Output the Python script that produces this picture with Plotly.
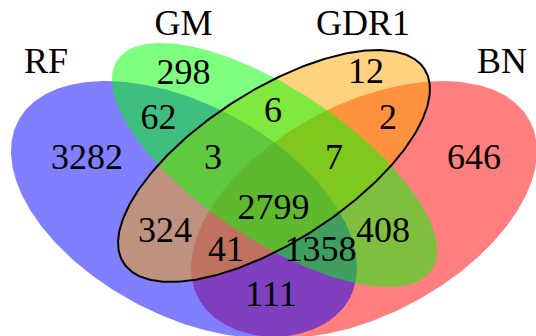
import numpy as np
import plotly.graph_objects as go

# Set names and region counts of the four-way Venn diagram
set_names = ["RF", "GM", "GDR1", "BN"]
region_labels = ["3282", "298", "12", "646",
                 "62", "6", "2",
                 "3", "7", "2799",
                 "324", "408", "41", "1358", "111"]
region_counts = [int(v) for v in region_labels]

# Where each number sits (pixel space, y downward)
region_x = [87, 183.5, 366, 474,
            158.5, 273, 388,
            213, 334, 273.5,
            165, 383, 226, 320.5, 271]
region_y = [160, 75, 74, 160,
            120, 113, 119.5,
            160, 160, 210,
            233, 233, 252, 251.5, 297]

# Set-name label positions
name_x = [46, 183.5, 363, 502]
name_y = [64, 26, 26, 64]

# Ellipse geometry per set: centre, semi-axes, clockwise rotation (deg)
ellipses = {
    "RF":   dict(cx=184, cy=209.5, a=188, b=105.3, rot=28.2, color="rgba(0,0,255,0.5)"),
    "GM":   dict(cx=274.5, cy=165, a=189, b=75, rot=33.7, color="rgba(0,255,0,0.5)"),
    "GDR1": dict(cx=274, cy=166, a=179, b=75.6, rot=-32.8, color="rgba(255,165,0,0.5)"),
    "BN":   dict(cx=364, cy=209.5, a=188, b=105.3, rot=-28.2, color="rgba(255,0,0,0.5)"),
}
draw_order = ["BN", "RF", "GDR1", "GM"]


def ellipse_path(cx, cy, a, b, rot, n=400):
    t = np.linspace(0, 2 * np.pi, n)
    r = np.deg2rad(rot)
    x = cx + a * np.cos(t) * np.cos(r) - b * np.sin(t) * np.sin(r)
    y = cy + a * np.cos(t) * np.sin(r) + b * np.sin(t) * np.cos(r)
    return x, y


fig = go.Figure()
for name in draw_order:
    e = ellipses[name]
    x, y = ellipse_path(e["cx"], e["cy"], e["a"], e["b"], e["rot"])
    fig.add_trace(go.Scatter(x=x, y=y, mode="lines", fill="toself",
                             fillcolor=e["color"], line=dict(width=0),
                             hoverinfo="skip", showlegend=False))

# Black outline around GDR1
e = ellipses["GDR1"]
x, y = ellipse_path(e["cx"], e["cy"], e["a"], e["b"], e["rot"])
fig.add_trace(go.Scatter(x=x, y=y, mode="lines", line=dict(color="black", width=2),
                         hoverinfo="skip", showlegend=False))

font = dict(family="Liberation Serif", size=36, color="black")
fig.add_trace(go.Scatter(x=region_x, y=region_y, mode="text",
                         text=[str(c) for c in region_counts],
                         textposition="middle center", textfont=font,
                         hoverinfo="skip", showlegend=False))
fig.add_trace(go.Scatter(x=name_x, y=name_y, mode="text", text=set_names,
                         textposition="middle center", textfont=font,
                         hoverinfo="skip", showlegend=False))

fig.update_layout(width=536, height=336, margin=dict(l=0, r=0, t=0, b=0),
                  paper_bgcolor="white", plot_bgcolor="white")
fig.update_xaxes(range=[0, 536], visible=False, fixedrange=True)
fig.update_yaxes(range=[336, 0], visible=False, fixedrange=True)

fig.write_html("out.html")
